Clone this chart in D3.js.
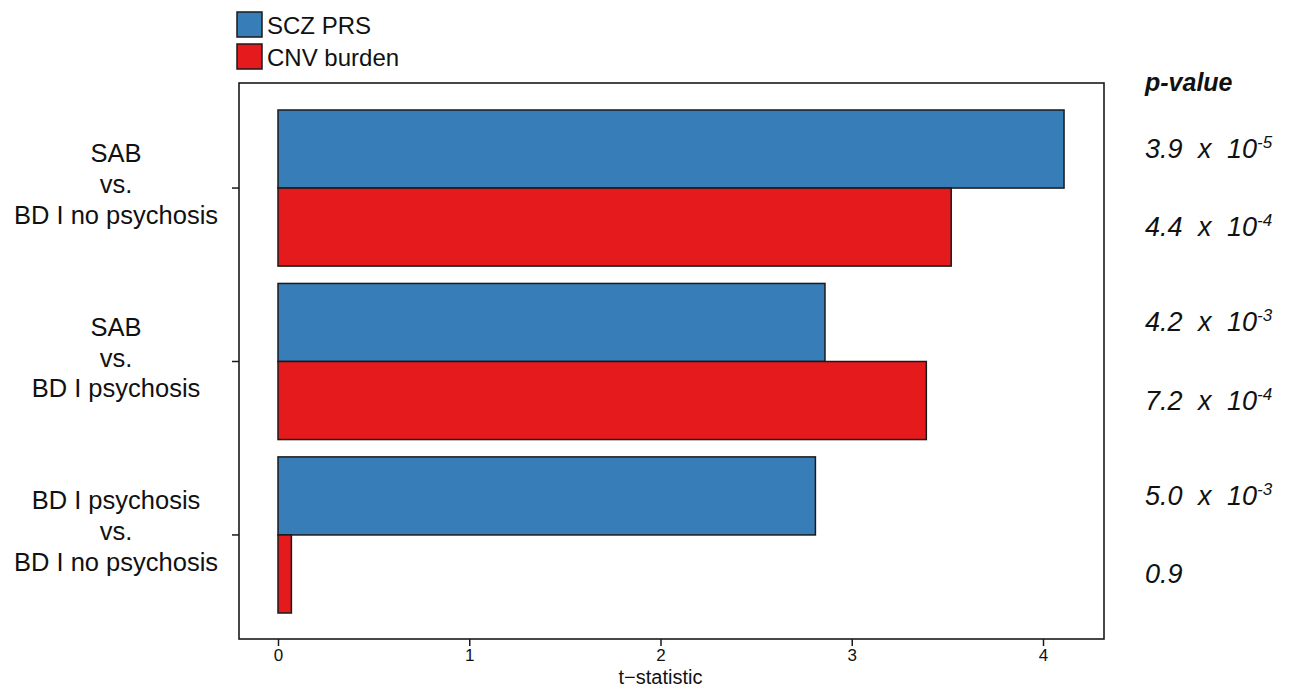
<!DOCTYPE html>
<html lang="en">

<head>
    <meta charset="UTF-8">
    <title>SCZ PRS and CNV burden t-statistics</title>
    <script src="https://d3js.org/d3.v7.min.js"></script>
    <style>
        body {
            margin: 0;
            background: #fff;
        }

        text {
            font-family: "Liberation Sans", Arial, Helvetica, sans-serif;
            fill: #111;
        }

        .tick text {
            font-family: "Liberation Sans Narrow", "Arial Narrow", "Liberation Sans", sans-serif;
            font-size: 17px;
        }
    </style>
</head>

<body>
    <div id="chart"></div>
    <script>
        // data
        const groups = ["SAB|vs.|BD I no psychosis", "SAB|vs.|BD I psychosis", "BD I psychosis|vs.|BD I no psychosis"];
        const series = ["SCZ PRS", "CNV burden"];
        const sczValues = [4.11, 2.86, 2.81];
        const cnvValues = [3.52, 3.39, 0.07];
        const sczP = ["3.9 x 10", "4.2 x 10", "5.0 x 10"];
        const sczPExp = ["-5", "-3", "-3"];
        const cnvP = ["4.4 x 10", "7.2 x 10", "0.9"];
        const cnvPExp = ["-4", "-4", ""];
        const xTicks = [0, 1, 2, 3, 4];
        const colors = ["#377EB8", "#E41A1C"];

        const width = 1300;
        const height = 688;
        const box = { left: 239, right: 1104, top: 83, bottom: 639 };

        const svg = d3.select("#chart")
            .append("svg")
            .attr("width", width)
            .attr("height", height);

        // scales
        const x = d3.scaleLinear().domain([0, 4]).range([278, 1043]);
        const y = d3.scaleBand().domain(groups).range([110, 613]).paddingInner(0.1).paddingOuter(0);
        const ySub = d3.scaleBand().domain(series).range([0, y.bandwidth()]);

        const rows = [];
        groups.forEach((g, i) => {
            rows.push({ group: g, series: series[0], value: sczValues[i], p: sczP[i], exp: sczPExp[i] });
            rows.push({ group: g, series: series[1], value: cnvValues[i], p: cnvP[i], exp: cnvPExp[i] });
        });

        // bars
        svg.append("g")
            .selectAll("rect")
            .data(rows)
            .join("rect")
            .attr("x", x(0))
            .attr("y", d => y(d.group) + ySub(d.series))
            .attr("width", d => x(d.value) - x(0))
            .attr("height", ySub.bandwidth())
            .attr("fill", d => colors[series.indexOf(d.series)])
            .attr("stroke", "#1a1a1a")
            .attr("stroke-width", 1.5);

        // plot box
        svg.append("rect")
            .attr("x", box.left)
            .attr("y", box.top)
            .attr("width", box.right - box.left)
            .attr("height", box.bottom - box.top)
            .attr("fill", "none")
            .attr("stroke", "#1a1a1a")
            .attr("stroke-width", 1.6);

        // x axis
        const xAxis = svg.append("g")
            .attr("transform", `translate(0,${box.bottom})`)
            .call(d3.axisBottom(x).tickValues(xTicks).tickFormat(d3.format("d")).tickSize(7).tickPadding(3));
        xAxis.select(".domain").remove();
        xAxis.selectAll(".tick line").attr("stroke", "#1a1a1a").attr("stroke-width", 1.5);
        xAxis.selectAll(".tick text").attr("fill", "#111");

        svg.append("text")
            .attr("x", x(2))
            .attr("y", 684)
            .attr("text-anchor", "middle")
            .style("font-size", "20px")
            .text("t\u2212statistic");

        // y axis
        const yAxis = svg.append("g")
            .attr("transform", `translate(${box.left},0)`)
            .call(d3.axisLeft(y).tickSize(7).tickFormat(""));
        yAxis.select(".domain").remove();
        yAxis.selectAll(".tick line").attr("stroke", "#1a1a1a").attr("stroke-width", 1.5);

        const groupLabels = svg.append("g")
            .selectAll("text")
            .data(groups)
            .join("text")
            .attr("text-anchor", "middle")
            .style("font-size", "25.5px")
            .attr("transform", d => `translate(116,${y(d) + y.bandwidth() / 2 + 5})`);
        groupLabels.selectAll("tspan")
            .data(d => d.split("|"))
            .join("tspan")
            .attr("x", 0)
            .attr("y", (d, i) => (i - 1) * 30.8)
            .text(d => d);

        // p-values
        svg.append("text")
            .attr("x", 1145)
            .attr("y", 91)
            .style("font-size", "25px")
            .style("font-weight", "bold")
            .style("font-style", "italic")
            .text("p-value");

        const pText = svg.append("g")
            .selectAll("text")
            .data(rows)
            .join("text")
            .attr("x", 1145)
            .attr("y", d => y(d.group) + ySub(d.series) + ySub.bandwidth() / 2 + 9)
            .style("font-size", "27px")
            .style("font-style", "italic")
            .style("word-spacing", "8px");
        pText.append("tspan").text(d => d.p);
        pText.filter(d => d.exp !== "")
            .append("tspan")
            .attr("dy", -10)
            .style("font-size", "17px")
            .text(d => d.exp);

        // legend
        const legend = svg.append("g")
            .selectAll("g")
            .data(series)
            .join("g")
            .attr("transform", (d, i) => `translate(237,${12 + i * 32})`);
        legend.append("rect")
            .attr("width", 25)
            .attr("height", 25)
            .attr("fill", (d, i) => colors[i])
            .attr("stroke", "#1a1a1a")
            .attr("stroke-width", 1.5);
        legend.append("text")
            .attr("x", 30)
            .attr("y", 22)
            .style("font-size", "24px")
            .text(d => d);
    </script>
</body>

</html>
